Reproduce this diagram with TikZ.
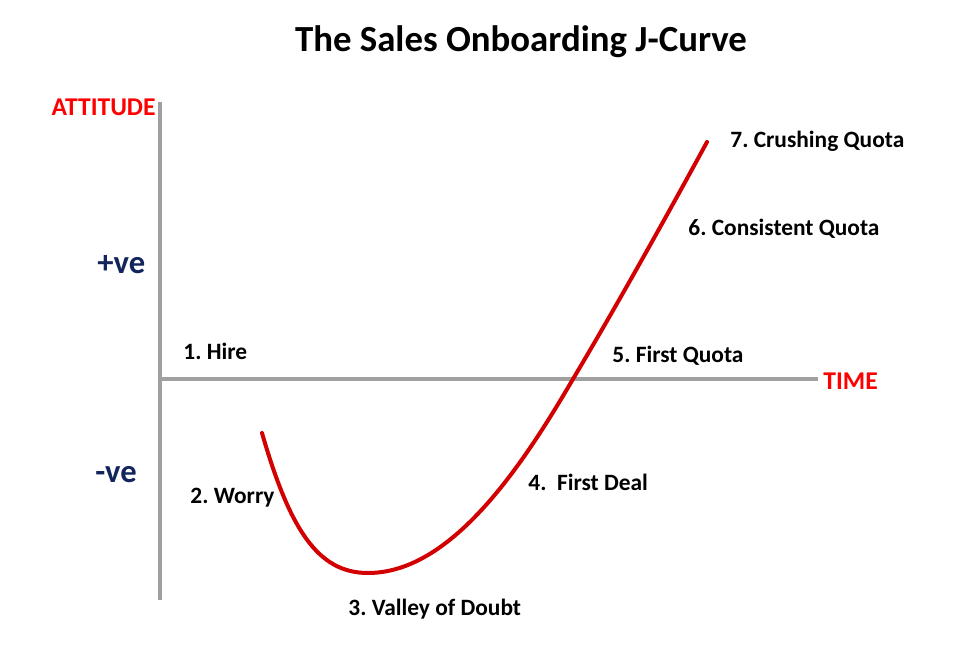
\documentclass[tikz,border=0pt]{standalone}
\usepackage{fontspec}
\setmainfont{Carlito}
\frenchspacing
\definecolor{axisgray}{RGB}{160,160,160}
\definecolor{curvered}{RGB}{210,0,0}
\definecolor{labred}{RGB}{255,0,0}
\definecolor{navy}{RGB}{18,36,92}
\begin{document}
\begin{tikzpicture}[x=0.5pt,y=-0.5pt,line join=round,line cap=round,
	lab/.style={font=\fontsize{11.7}{14}\selectfont\bfseries,inner sep=0pt,anchor=west},
	axlab/.style={font=\fontsize{12.8}{15}\selectfont\bfseries,text=labred,inner sep=0pt},
	sign/.style={font=\fontsize{16.3}{19}\selectfont\bfseries,text=navy,inner sep=0pt,anchor=west}]
	\useasboundingbox (0,0) rectangle (975,648);
	\path
	(160,102) coordinate (Top)
	(160,600) coordinate (O)
	(160,379) coordinate (L)
	(818,379) coordinate (R)
	(262,433) coordinate (S)
	(368,573) coordinate (V)
	(573,379) coordinate (X)
	(707,142) coordinate (E);
	% truc
	\draw[axisgray,line width=2.2pt,line cap=butt] (Top)--(O);
	\draw[axisgray,line width=2.2pt,line cap=butt] (L)--(R);
	% duong cong J
	\draw[curvered,line width=2pt] (S) .. controls (290,530) and (318,573) .. (V)
		.. controls (450,573) and (520,470) .. (X)
		.. controls (620,300) and (670,210) .. (E);
	% nhan
	\node[font=\fontsize{18.4}{22}\selectfont\bfseries] (title) at (521,42) {The Sales Onboarding J-Curve};
	\node[axlab,anchor=east] (att) at (156,107) {ATTITUDE};
	\node[axlab,anchor=west] (time) at (823,381) {TIME};
	\node[sign] (pos) at (97,265) {+ve};
	\node[sign] (neg) at (95,475) {-ve};
	\node[lab] (hire) at (183,351) {1. Hire};
	\node[lab] (worry) at (190,498) {2. Worry};
	\node[lab] (valley) at (348,609) {3. Valley of Doubt};
	\node[lab] (deal) at (528,482) {4.\ \ First Deal};
	\node[lab] (quota) at (612,356) {5. First Quota};
	\node[lab] (cons) at (688,229) {6. Consistent Quota};
	\node[lab] (crush) at (730,141) {7. Crushing Quota};
\end{tikzpicture}
\end{document}
